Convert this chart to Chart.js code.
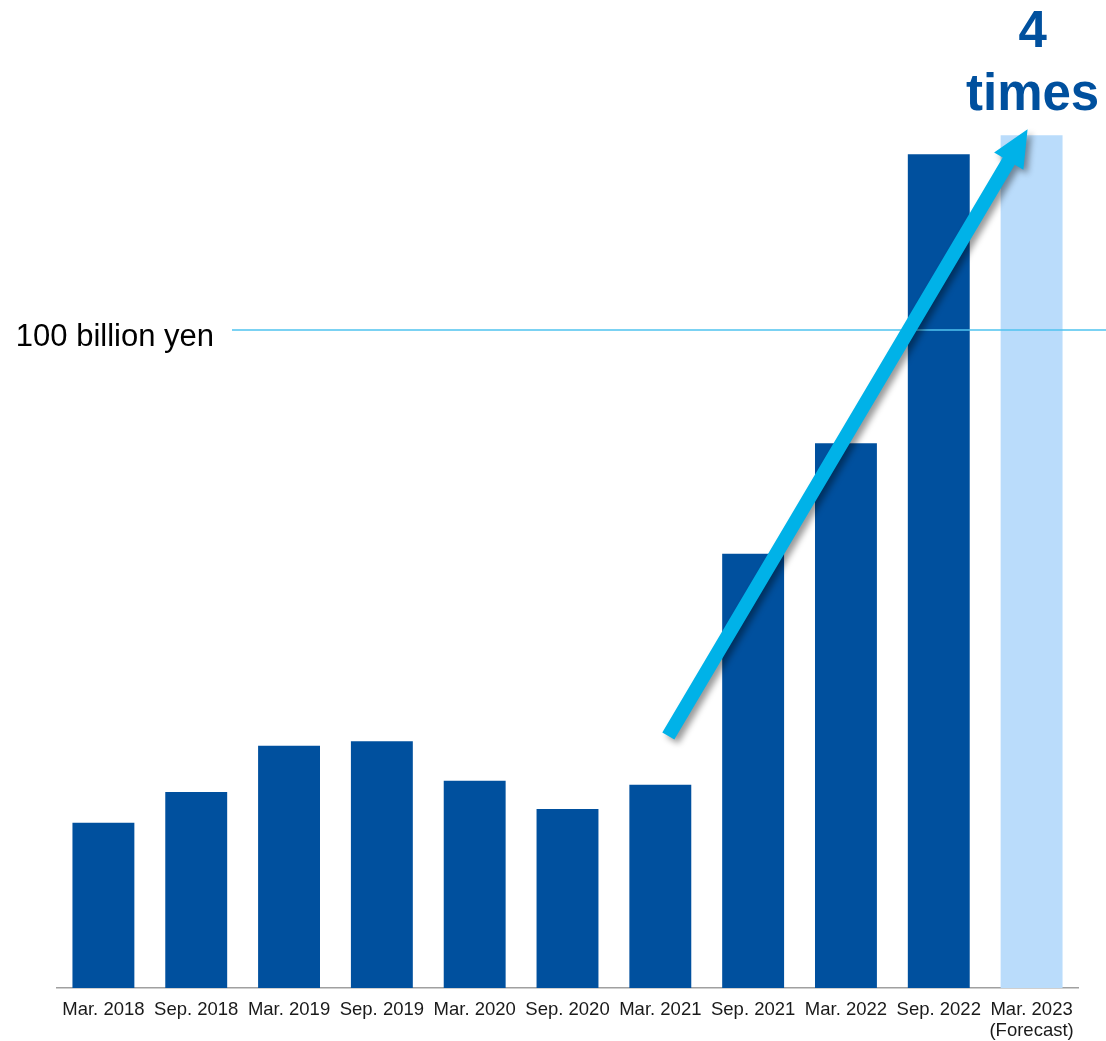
<!DOCTYPE html>
<html>
<head>
<meta charset="utf-8">
<script src="https://cdn.jsdelivr.net/npm/chart.js@4/dist/chart.umd.min.js"></script>
<style>
  html, body { margin: 0; padding: 0; background: #fff; }
  #wrap { width: 1106px; height: 1041px; position: relative; }
</style>
</head>
<body>
<div id="wrap"><canvas id="growthChart"></canvas></div>
<script>
// Balance by period (billion yen)
const periods = [
    'Mar. 2018', 'Sep. 2018', 'Mar. 2019', 'Sep. 2019', 'Mar. 2020', 'Sep. 2020',
    'Mar. 2021', 'Sep. 2021', 'Mar. 2022', 'Sep. 2022', ['Mar. 2023', '(Forecast)']
];
const balance = [25.1, 29.8, 36.8, 37.5, 31.5, 27.2, 30.9, 66.0, 82.8, 126.7, 129.6];
const isForecast = [false, false, false, false, false, false, false, false, false, false, true];

const refValue = 100;
const refLabel = '100 billion yen';
const growthText = ['4', 'times'];
// arrow from / to, as [category index, value]
const arrowFrom = [6, 38.3];
const arrowTo = [10, 130.5];

const darkBlue = '#00509e';
const lightBlue = '#badcfb';
const cyan = '#00b2e8';

const overlayPlugin = {
    id: 'overlay',
    afterDatasetsDraw(chart) {
        const ctx = chart.ctx;
        const x = chart.scales.x;
        const y = chart.scales.y;

        // 100 billion yen reference line
        const ry = y.getPixelForValue(refValue);
        ctx.save();
        ctx.strokeStyle = '#4fc3ef';
        ctx.lineWidth = 1.5;
        ctx.beginPath();
        ctx.moveTo(232, ry);
        ctx.lineTo(chart.width, ry);
        ctx.stroke();
        ctx.fillStyle = '#000';
        ctx.font = '31px Arial, "Liberation Sans", sans-serif';
        ctx.textAlign = 'right';
        ctx.textBaseline = 'alphabetic';
        ctx.fillText(refLabel, 214, ry + 16);
        ctx.restore();

        // growth arrow
        const x0 = x.getPixelForValue(arrowFrom[0]) + 8;
        const y0 = y.getPixelForValue(arrowFrom[1]);
        const x1 = x.getPixelForValue(arrowTo[0]) - 4;
        const y1 = y.getPixelForValue(arrowTo[1]);
        const len = Math.hypot(x1 - x0, y1 - y0);
        const ux = (x1 - x0) / len, uy = (y1 - y0) / len;
        const nx = -uy, ny = ux;
        const half = 7, headHalf = 17, headLen = 37;
        const bx = x1 - ux * headLen, by = y1 - uy * headLen;
        ctx.save();
        ctx.shadowColor = 'rgba(0,0,0,0.4)';
        ctx.shadowBlur = 6;
        ctx.shadowOffsetX = 4;
        ctx.shadowOffsetY = 4;
        ctx.fillStyle = cyan;
        ctx.beginPath();
        ctx.moveTo(x0 + nx * half, y0 + ny * half);
        ctx.lineTo(bx + nx * half, by + ny * half);
        ctx.lineTo(bx + nx * headHalf, by + ny * headHalf);
        ctx.lineTo(x1, y1);
        ctx.lineTo(bx - nx * headHalf, by - ny * headHalf);
        ctx.lineTo(bx - nx * half, by - ny * half);
        ctx.lineTo(x0 - nx * half, y0 - ny * half);
        ctx.closePath();
        ctx.fill();
        ctx.restore();

        // "4 times"
        const cx = x.getPixelForValue(10) + 1;
        ctx.save();
        ctx.fillStyle = darkBlue;
        ctx.font = 'bold 51px Arial, "Liberation Sans", sans-serif';
        ctx.textAlign = 'center';
        ctx.textBaseline = 'alphabetic';
        ctx.fillText(growthText[0], cx, 47);
        ctx.fillText(growthText[1], cx, 110);
        ctx.restore();
    }
};

new Chart(document.getElementById('growthChart'), {
    type: 'bar',
    data: {
        labels: periods,
        datasets: [{
            data: balance,
            backgroundColor: isForecast.map(f => f ? lightBlue : darkBlue),
            borderWidth: 0,
            barPercentage: 0.667,
            categoryPercentage: 1.0
        }]
    },
    options: {
        responsive: true,
        maintainAspectRatio: false,
        animation: false,
        layout: {
            padding: { top: 1, bottom: 0, left: 57, right: 28 }
        },
        plugins: {
            legend: { display: false },
            title: { display: false },
            tooltip: { enabled: false }
        },
        scales: {
            y: {
                display: false,
                min: 0,
                max: 150
            },
            x: {
                afterFit(scale) { scale.height = 53; },
                grid: { display: false, drawTicks: false },
                border: { display: true, color: '#a0a0a0', width: 1.5 },
                ticks: {
                    color: '#1a1a1a',
                    font: { family: 'Arial, "Liberation Sans", sans-serif', size: 18.5, lineHeight: 1.12 },
                    padding: 12,
                    maxRotation: 0,
                    autoSkip: false
                }
            }
        }
    },
    plugins: [overlayPlugin]
});
</script>
</body>
</html>
